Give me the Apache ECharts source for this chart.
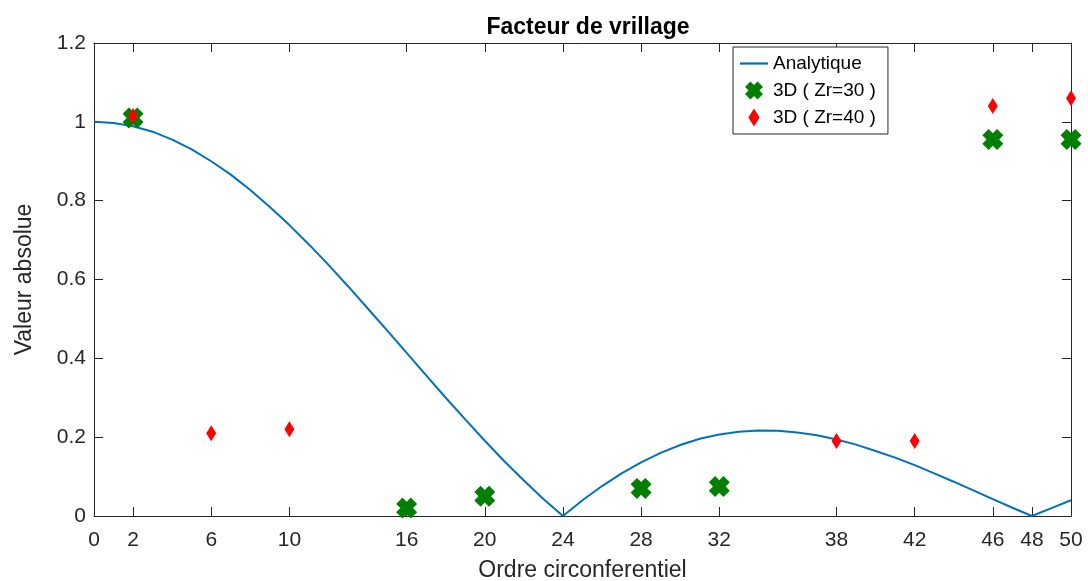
<!DOCTYPE html>
<html><head><meta charset="utf-8">
<script src="https://cdn.jsdelivr.net/npm/echarts@6/dist/echarts.min.js"></script>
<style>html,body{margin:0;padding:0;background:#fff}#c{width:1088px;height:581px}</style>
</head><body><div id="c"></div>
<script>
// Analytic curve (orders and absolute values)
const analyticN = [0,1,2,3,4,5,6,7,8,9,10,11,12,13,14,15,16,17,18,19,20,21,22,23,24,25,26,27,28,29,30,31,32,33,34,35,36,37,38,39,40,41,42,43,44,45,46,47,48,49,50];
const analyticV = [1.0,0.997,0.989,0.975,0.955,0.930,0.900,0.866,0.827,0.784,0.738,0.689,0.637,0.583,0.527,0.471,0.414,0.357,0.300,0.245,0.191,0.139,0.090,0.043,0.0,0.040,0.076,0.108,0.136,0.160,0.180,0.196,0.207,0.214,0.217,0.216,0.212,0.205,0.194,0.181,0.165,0.148,0.129,0.108,0.087,0.065,0.043,0.021,0.0,0.020,0.040];
// 3D (Zr=30)
const zr30N = [2,16,20,28,32,46,50];
const zr30V = [1.01,0.02,0.05,0.07,0.075,0.955,0.955];
// 3D (Zr=40)
const zr40N = [2,6,10,38,42,46,50];
const zr40V = [1.015,0.21,0.22,0.19,0.19,1.04,1.06];
const xTicks = [0,2,6,10,16,20,24,28,32,38,42,46,48,50];
const yTicks = [0,0.2,0.4,0.6,0.8,1,1.2];

const pairs = (a,b)=>a.map((v,i)=>[v,b[i]]);
const XPATH = 'path://M3,0 L5,2 L7,0 L10,3 L8,5 L10,7 L7,10 L5,8 L3,10 L0,7 L2,5 L0,3 Z';
const DPATH = 'path://M5,0 L10,8 L5,16 L0,8 Z';
const font = 'Liberation Sans, Arial, Helvetica, sans-serif';
const chart = echarts.init(document.getElementById('c'), null, {renderer:'canvas'});
const axLine = {show:true, onZero:false, lineStyle:{color:'#262626', width:1}};
const tick = {show:true, inside:true, length:9, lineStyle:{color:'#262626'}};
chart.setOption({
  animation:false,
  backgroundColor:'#fff',
  textStyle:{fontFamily:font},
  title:{text:'Facteur de vrillage', left:583, top:11, textAlign:'center',
    textStyle:{fontSize:23, fontWeight:'bold', color:'#000', fontFamily:font}},
  grid:{left:94, right:17, top:43, bottom:65, containLabel:false, outerBoundsMode:'none'},
  legend:{orient:'vertical', left:733, top:47, padding:[7,12,7,7], itemGap:8,
    borderColor:'#262626', borderWidth:1, backgroundColor:'#fff', borderRadius:0,
    itemWidth:28, itemHeight:18,
    textStyle:{fontSize:19, color:'#000', fontFamily:font},
    data:[{name:'Analytique', icon:'path://M0,0 L1,0 L1,0.08 L0,0.08 Z', itemStyle:{color:'#0072BD'}},
          {name:'3D ( Zr=30 )', icon:XPATH},
          {name:'3D ( Zr=40 )', icon:DPATH}]},
  xAxis:[{type:'value', min:0, max:50, name:'Ordre circonferentiel', nameLocation:'middle', nameGap:43,
    nameTextStyle:{fontSize:23, color:'#262626', fontFamily:font},
    axisLine:axLine, splitLine:{show:false},
    axisTick:Object.assign({customValues:xTicks}, tick),
    axisLabel:{show:true, customValues:xTicks, fontSize:21, color:'#262626', margin:14, fontFamily:font}},
    {type:'value', min:0, max:50, position:'top', axisLine:axLine, splitLine:{show:false},
    axisTick:Object.assign({customValues:xTicks}, tick),
    axisLabel:{show:false}}],
  yAxis:[{type:'value', min:0, max:1.2, interval:0.2, name:'Valeur absolue', nameLocation:'middle', nameGap:58,
    nameTextStyle:{fontSize:23, color:'#262626', fontFamily:font},
    axisLine:axLine, splitLine:{show:false},
    axisTick:tick,
    axisLabel:{fontSize:21, color:'#262626', margin:8, fontFamily:font,
      customValues:yTicks, formatter:v=>String(Math.round(v*10)/10)}},
    {type:'value', min:0, max:1.2, interval:0.2, position:'right', axisLine:axLine, splitLine:{show:false},
    axisTick:tick, axisLabel:{show:false}}],
  series:[
    {name:'Analytique', type:'line', data:pairs(analyticN, analyticV), symbol:'none', smooth:false,
      lineStyle:{color:'#0072BD', width:2}, itemStyle:{color:'#0072BD'}, z:2},
    {name:'3D ( Zr=30 )', type:'scatter', data:pairs(zr30N, zr30V), symbol:XPATH, symbolSize:21,
      itemStyle:{color:'#007F00', opacity:1}, z:3},
    {name:'3D ( Zr=40 )', type:'scatter', data:pairs(zr40N, zr40V), symbol:DPATH, symbolSize:[10,16],
      itemStyle:{color:'#FF0000', opacity:1}, z:4}
  ]
});
</script></body></html>
